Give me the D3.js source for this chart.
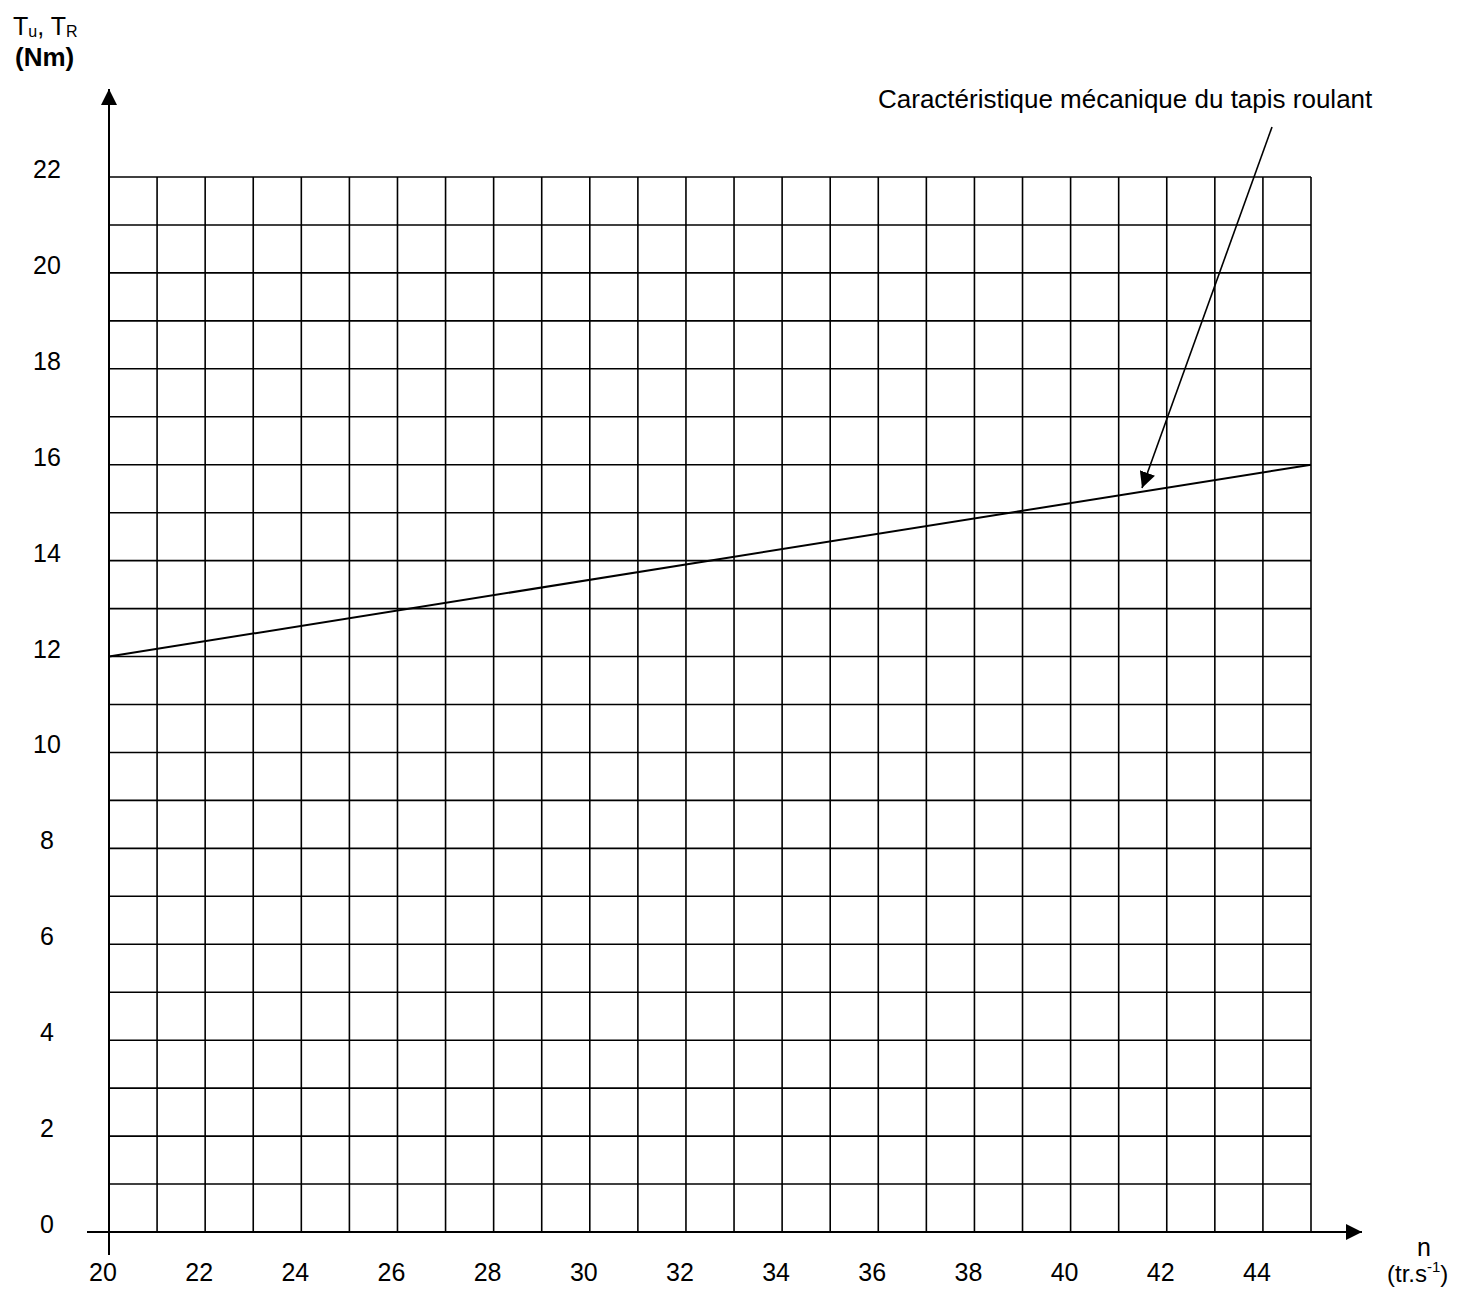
<!DOCTYPE html>
<html>
<head>
<meta charset="utf-8">
<script src="https://cdn.jsdelivr.net/npm/d3@7"></script>
<style>
  body { margin: 0; background: #fff; }
  text { font-family: "Liberation Sans", Arial, sans-serif; fill: #000; }
</style>
</head>
<body>
<svg id="chart" width="1463" height="1290"></svg>
<script>
// axis ranges and tick labels
const xDomain = [20, 45];
const yDomain = [0, 22];
const xTickLabels = [20, 22, 24, 26, 28, 30, 32, 34, 36, 38, 40, 42, 44];
const yTickLabels = [0, 2, 4, 6, 8, 10, 12, 14, 16, 18, 20, 22];

// characteristic line: n (tr/s) -> torque (Nm)
const curveN = [20, 45];
const curveT = [12, 16];

const annotationText = "Caractéristique mécanique du tapis roulant";

const svg = d3.select("#chart");

const x = d3.scaleLinear().domain(xDomain).range([109, 1311]);
const y = d3.scaleLinear().domain(yDomain).range([1232, 177]);

svg.append("defs").append("marker")
    .attr("id", "arrow")
    .attr("viewBox", "0 0 10 10")
    .attr("refX", 10).attr("refY", 5)
    .attr("markerWidth", 16).attr("markerHeight", 16)
    .attr("markerUnits", "userSpaceOnUse")
    .attr("orient", "auto")
  .append("path")
    .attr("d", "M0,0 L10,5 L0,10 z")
    .attr("fill", "#000");

// grid
const grid = svg.append("g").attr("stroke", "#000").attr("stroke-width", 1.6);
d3.range(xDomain[0], xDomain[1] + 1).forEach(v => {
    grid.append("line")
        .attr("x1", x(v)).attr("x2", x(v))
        .attr("y1", y(yDomain[1])).attr("y2", y(0));
});
d3.range(yDomain[0] + 1, yDomain[1] + 1).forEach(v => {
    grid.append("line")
        .attr("x1", x(xDomain[0])).attr("x2", x(xDomain[1]))
        .attr("y1", y(v)).attr("y2", y(v));
});

// axes with arrows
svg.append("line")
    .attr("x1", x(20)).attr("x2", x(20))
    .attr("y1", y(0) + 23).attr("y2", 89)
    .attr("stroke", "#000").attr("stroke-width", 2)
    .attr("marker-end", "url(#arrow)");
svg.append("line")
    .attr("x1", 87).attr("x2", 1362)
    .attr("y1", y(0)).attr("y2", y(0))
    .attr("stroke", "#000").attr("stroke-width", 2)
    .attr("marker-end", "url(#arrow)");

// tick labels
svg.append("g").selectAll("text")
    .data(yTickLabels).join("text")
    .attr("x", 47)
    .attr("y", d => y(d) + 1)
    .attr("text-anchor", "middle")
    .attr("font-size", 25)
    .text(d => d);

svg.append("g").selectAll("text")
    .data(xTickLabels).join("text")
    .attr("x", d => x(d) - 6)
    .attr("y", 1281)
    .attr("text-anchor", "middle")
    .attr("font-size", 25)
    .text(d => d);

// axis titles
const yt = svg.append("text").attr("x", 13).attr("y", 35).attr("font-size", 25);
yt.append("tspan").text("T");
yt.append("tspan").attr("font-size", 16).attr("dy", 2).text("u");
yt.append("tspan").attr("dy", -2).text(", T");
yt.append("tspan").attr("font-size", 16).attr("dy", 2).text("R");
svg.append("text").attr("x", 15).attr("y", 66)
    .attr("font-size", 26).attr("font-weight", "bold").text("(Nm)");

svg.append("text").attr("x", 1424).attr("y", 1256)
    .attr("text-anchor", "middle").attr("font-size", 25).text("n");
const xt = svg.append("text").attr("x", 1387).attr("y", 1282).attr("font-size", 24);
xt.append("tspan").text("(tr.s");
xt.append("tspan").attr("font-size", 15).attr("dy", -10).text("-1");
xt.append("tspan").attr("dy", 10).text(")");

// characteristic line
const pts = curveN.map((n, i) => [n, curveT[i]]);
svg.append("path")
    .datum(pts)
    .attr("d", d3.line().x(d => x(d[0])).y(d => y(d[1])))
    .attr("fill", "none")
    .attr("stroke", "#000")
    .attr("stroke-width", 2);

// annotation
svg.append("text")
    .attr("x", 878).attr("y", 108)
    .attr("font-size", 26)
    .text(annotationText);
svg.append("line")
    .attr("x1", 1272).attr("y1", 127)
    .attr("x2", 1142).attr("y2", 488)
    .attr("stroke", "#000").attr("stroke-width", 1.6)
    .attr("marker-end", "url(#arrow)");
</script>
</body>
</html>
